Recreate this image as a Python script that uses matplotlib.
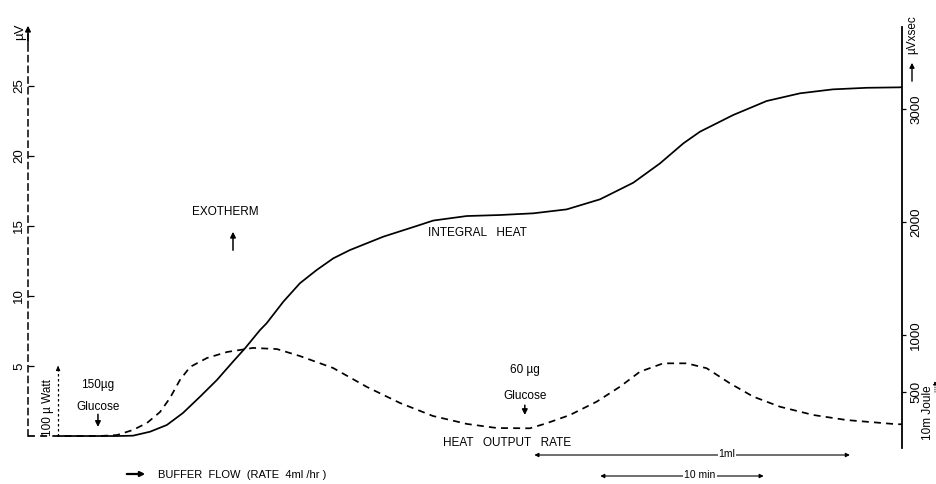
import matplotlib
matplotlib.use('Agg')
import matplotlib.pyplot as plt

plt.rcParams['font.family'] = ['Liberation Sans', 'DejaVu Sans']

# time in minutes from the left recorder axis
rate_t = [0, 4.26, 5.27, 6.21, 7.04, 7.81, 8.40, 8.99, 9.59, 10.59, 11.78, 13.31,
          14.73, 16.09, 18.05, 20.06, 22.01, 23.96, 25.98, 27.75, 29.70, 30.69,
          32.07, 33.65, 35.03, 36.21, 37.59, 38.98, 40.16, 41.54, 42.92, 44.50,
          46.47, 48.44, 51.40, 51.72]
# heat output rate, uV (dashed trace, left scale)
rate_uv = [0, 0, 0.07, 0.43, 0.93, 1.71, 2.71, 4.00, 4.93, 5.57, 6.00, 6.29,
           6.21, 5.71, 4.86, 3.50, 2.36, 1.43, 0.86, 0.57, 0.55, 0.91,
           1.50, 2.45, 3.52, 4.59, 5.19, 5.19, 4.84, 3.76, 2.81, 2.09,
           1.50, 1.14, 0.84, 0.84]

integral_t = [1.78, 4.26, 5.27, 6.21, 7.22, 8.22, 9.17, 10.18, 11.18, 12.13, 12.84,
              13.73, 14.12, 15.11, 16.09, 17.08, 18.07, 19.05, 21.02, 23.00, 23.98,
              25.96, 27.93, 29.90, 31.88, 33.85, 35.82, 37.40, 38.78, 39.76, 41.73,
              43.71, 45.68, 47.62, 49.63, 51.60, 51.72]
# integral heat, uV x sec (solid trace, right scale)
integral_uvs = [106, 106, 106, 109, 144, 204, 310, 454, 602, 764, 882,
                1044, 1104, 1295, 1458, 1575, 1679, 1752, 1870, 1965, 2013,
                2053, 2062, 2077, 2112, 2201, 2348, 2519, 2696, 2799, 2947,
                3071, 3139, 3174, 3188, 3192, 3195]

left_ticks = [5, 10, 15, 20, 25]
right_ticks = [500, 1000, 2000, 3000]

glucose1_t = 4.14
glucose2_t = 29.40
watt_bar_t = 1.78
watt_bar_uv = 5.2
min10_bar = (33.7, 43.7)
ml1_bar = (29.8, 48.8)

W, H = 937, 484


def fp(x, y):
    # pixel position -> figure fraction
    return x / W, 1 - y / H


fig = plt.figure(figsize=(W / 100, H / 100), dpi=100)
ax = fig.add_axes([28 / W, 1 - 448 / H, (902 - 28) / W, (448 - 27) / H])
ax.set_xlim(0, 51.72)
ax.set_ylim(-0.857, 29.21)
ax2 = ax.twinx()
ax2.set_ylim(0, 3726)

dash = (0, (4, 3))
ax.plot(rate_t, rate_uv, color='black', lw=1.25, ls=dash)
ax2.plot(integral_t, integral_uvs, color='black', lw=1.25)

for s in ['top', 'right', 'bottom']:
    ax.spines[s].set_visible(False)
for s in ['top', 'left', 'bottom']:
    ax2.spines[s].set_visible(False)
ax.spines['left'].set_linestyle(dash)
ax.spines['left'].set_linewidth(1.1)
ax.spines['left'].set_bounds(0, 29.0)
ax2.spines['right'].set_linewidth(1.3)

ax.set_xticks([])
ax.set_yticks(left_ticks)
ax.set_yticklabels([str(v) for v in left_ticks], rotation=90, va='center', fontsize=9.5)
ax.tick_params(axis='y', direction='in', length=4, width=0.9, pad=2)
ax2.set_yticks(right_ticks)
ax2.set_yticklabels([str(v) for v in right_ticks], rotation=90, va='center', fontsize=9.5)
ax2.tick_params(axis='y', direction='out', length=3, width=0.9, pad=3)

ap = dict(arrowstyle='-|>', color='black', lw=1.1, mutation_scale=8)

# axis arrows and units
ax.annotate('', xy=(0, 29.5), xytext=(0, 27.8), arrowprops=ap, annotation_clip=False)
fig.text(*fp(20, 32), 'µV', rotation=90, ha='center', va='center', fontsize=9.5)
ax.annotate('', xy=fp(912, 60), xytext=fp(912, 84), xycoords='figure fraction',
            arrowprops=dict(arrowstyle='-|>', color='black', lw=1.0, mutation_scale=7))
fig.text(*fp(912, 35), 'µVxsec', rotation=90, ha='center', va='center', fontsize=8.5)

# 100 uWatt calibration bar
ax.plot([watt_bar_t, watt_bar_t], [0, watt_bar_uv - 0.3], color='black', lw=0.9, ls=(0, (2, 2)))
ax.annotate('', xy=(watt_bar_t, watt_bar_uv), xytext=(watt_bar_t, watt_bar_uv - 0.5),
            arrowprops=dict(arrowstyle='-|>', color='black', lw=0.8, mutation_scale=6))
fig.text(*fp(48, 408), '100 µ Watt', rotation=90, ha='center', va='center', fontsize=8.5)

# 10 mJoule calibration at the right edge
fig.text(*fp(928, 413), '10m Joule', rotation=90, ha='center', va='center', fontsize=8.5)
ax.annotate('', xy=fp(935, 378), xytext=fp(935, 395), xycoords='figure fraction',
            arrowprops=dict(arrowstyle='-|>', color='black', lw=0.6, ls=':', mutation_scale=6))

# glucose injections
fig.text(*fp(98, 385), '150µg', ha='center', va='center', fontsize=8.5)
fig.text(*fp(98, 407), 'Glucose', ha='center', va='center', fontsize=8.5)
ax.annotate('', xy=(glucose1_t, 0.45), xytext=(glucose1_t, 1.75), arrowprops=ap)
fig.text(*fp(525, 370), '60 µg', ha='center', va='center', fontsize=8.5)
fig.text(*fp(525, 396), 'Glucose', ha='center', va='center', fontsize=8.5)
ax.annotate('', xy=(glucose2_t, 1.3), xytext=(glucose2_t, 2.4), arrowprops=ap)

# exotherm direction
fig.text(*fp(225, 212), 'EXOTHERM', ha='center', va='center', fontsize=8.5)
ax.annotate('', xy=fp(233, 229), xytext=fp(233, 253), xycoords='figure fraction', arrowprops=ap)

# curve labels
fig.text(*fp(428, 233), 'INTEGRAL   HEAT', ha='left', va='center', fontsize=8.5)
fig.text(*fp(443, 443), 'HEAT   OUTPUT   RATE', ha='left', va='center', fontsize=8.5)

# scale bars under the trace
bar_ap = dict(arrowstyle='<|-|>', color='black', lw=0.8, mutation_scale=6)
ax.annotate('', xy=(ml1_bar[1], 1 - 455 / H), xytext=(ml1_bar[0], 1 - 455 / H),
            xycoords=('data', 'figure fraction'), arrowprops=bar_ap, annotation_clip=False)
fig.text(*fp(727, 454), '1ml', ha='center', va='center', fontsize=7.5,
         bbox=dict(facecolor='white', edgecolor='none', pad=0.5))
ax.annotate('', xy=(min10_bar[1], 1 - 476 / H), xytext=(min10_bar[0], 1 - 476 / H),
            xycoords=('data', 'figure fraction'), arrowprops=bar_ap, annotation_clip=False)
fig.text(*fp(700, 475), '10 min', ha='center', va='center', fontsize=7.5,
         bbox=dict(facecolor='white', edgecolor='none', pad=1))

# buffer flow
ax.annotate('', xy=fp(148, 474), xytext=fp(124, 474), xycoords='figure fraction',
            arrowprops=dict(arrowstyle='-|>', color='black', lw=1.6, mutation_scale=7))
fig.text(*fp(158, 475), 'BUFFER  FLOW  (RATE  4ml /hr )', ha='left', va='center', fontsize=8)

fig.savefig('out.png', dpi=100)
